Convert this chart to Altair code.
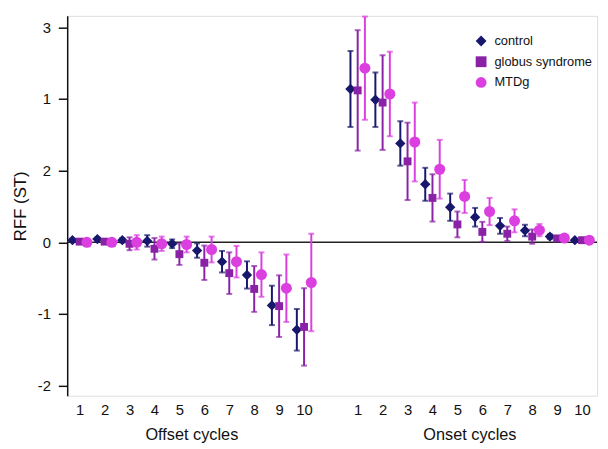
import altair as alt
import pandas as pd

groups = ["control", "globus syndrome", "MTDg"]
colors = ["#17176b", "#8a22a6", "#db3fe0"]
shapes = ["diamond", "square", "circle"]
marker_sizes = {"control": 110, "globus syndrome": 64, "MTDg": 125}
cycles = list(range(1, 11))

# Offset cycles (mean, half-width of error bar), in plotted units
off_control_mean = [0.03, 0.045, 0.03, 0.02, -0.02, -0.115, -0.27, -0.455, -0.88, -1.22]
off_control_err = [0.02, 0.02, 0.03, 0.08, 0.06, 0.10, 0.15, 0.19, 0.275, 0.29]
off_globus_mean = [0.01, 0.01, -0.02, -0.09, -0.165, -0.285, -0.43, -0.65, -0.89, -1.18]
off_globus_err = [0.02, 0.02, 0.09, 0.15, 0.15, 0.24, 0.29, 0.32, 0.43, 0.54]
off_mtdg_mean = [0.0, 0.0, 0.0, -0.02, -0.03, -0.10, -0.27, -0.45, -0.64, -0.56]
off_mtdg_err = [0.02, 0.02, 0.10, 0.10, 0.11, 0.18, 0.22, 0.31, 0.47, 0.68]

# Onset cycles
on_control_mean = [2.14, 1.99, 1.38, 0.81, 0.49, 0.35, 0.23, 0.165, 0.08, 0.03]
on_control_err = [0.53, 0.38, 0.31, 0.23, 0.19, 0.13, 0.11, 0.08, 0.03, 0.02]
on_globus_mean = [2.12, 1.95, 1.13, 0.62, 0.25, 0.146, 0.12, 0.08, 0.055, 0.03]
on_globus_err = [0.84, 0.66, 0.54, 0.33, 0.18, 0.14, 0.10, 0.10, 0.02, 0.02]
on_mtdg_mean = [2.43, 2.07, 1.40, 1.02, 0.64, 0.43, 0.30, 0.17, 0.06, 0.03]
on_mtdg_err = [0.72, 0.59, 0.55, 0.41, 0.23, 0.19, 0.16, 0.085, 0.04, 0.02]

y_tick_values = [3, 2, 1, 0, -1, -2]
y_tick_labels = ["3", "1", "2", "0", "-1", "-2"]

onset_shift = 11.15
dodge = {"control": -0.29, "globus syndrome": 0.0, "MTDg": 0.29}

rows = []
series = {
    ("Offset", "control"): (off_control_mean, off_control_err),
    ("Offset", "globus syndrome"): (off_globus_mean, off_globus_err),
    ("Offset", "MTDg"): (off_mtdg_mean, off_mtdg_err),
    ("Onset", "control"): (on_control_mean, on_control_err),
    ("Onset", "globus syndrome"): (on_globus_mean, on_globus_err),
    ("Onset", "MTDg"): (on_mtdg_mean, on_mtdg_err),
}
for (phase, g), (means, errs) in series.items():
    for c, m, e in zip(cycles, means, errs):
        base = c if phase == "Offset" else c + onset_shift
        rows.append({"phase": phase, "group": g, "cycle": c,
                     "pos": base + dodge[g], "mean": m,
                     "lo": m - e, "hi": m + e, "msize": marker_sizes[g]})
df = pd.DataFrame(rows)

tick_pos = cycles + [c + onset_shift for c in cycles]
label_expr = f"datum.value > 10.5 ? format(round(datum.value - {onset_shift}), 'd') : format(datum.value, 'd')"
ylabel_expr = " : ".join(
    [f"datum.value == {v} ? '{l}'" for v, l in zip(y_tick_values, y_tick_labels)]
) + " : datum.label"

W, H = 537, 385
FONT = "Liberation Sans"
xscale = alt.Scale(domain=[0.5, 21.75], nice=False, zero=False)
yscale = alt.Scale(domain=[-2.14, 3.16], nice=False, zero=False)
cscale = alt.Scale(domain=groups, range=colors)
sscale = alt.Scale(domain=groups, range=shapes)

legend = alt.Legend(title=None, orient="none", legendX=413, legendY=19,
                    labelFontSize=13, labelFont=FONT, labelColor="#111",
                    symbolSize=120, rowPadding=7, labelOffset=7, padding=0,
                    symbolStrokeWidth=0, symbolOpacity=1, labelLimit=200)
color_enc = alt.Color("group:N", scale=cscale, legend=legend)
shape_enc = alt.Shape("group:N", scale=sscale, legend=legend)

xaxis = alt.Axis(values=tick_pos, labelExpr=label_expr, domain=False,
                 ticks=False, grid=False, title=None, labelFontSize=15,
                 labelPadding=7, labelColor="#111", labelFont=FONT,
                 labelOverlap=False, labelFlush=False, labelBound=False)
xenc = alt.X("pos:Q", scale=xscale, axis=xaxis)

base = alt.Chart(df)

bars = base.mark_rule(strokeWidth=2).encode(
    x=xenc,
    y=alt.Y("lo:Q", scale=yscale),
    y2="hi:Q",
    color=color_enc,
)
cap_lo = base.mark_tick(orient="horizontal", size=6, thickness=2).encode(
    x=xenc, y=alt.Y("lo:Q", scale=yscale), color=color_enc)
cap_hi = base.mark_tick(orient="horizontal", size=6, thickness=2).encode(
    x=xenc, y=alt.Y("hi:Q", scale=yscale), color=color_enc)

points = base.mark_point(filled=True, opacity=1).encode(
    x=xenc,
    y=alt.Y("mean:Q", scale=yscale,
            axis=alt.Axis(values=y_tick_values, labelExpr=ylabel_expr, grid=False,
                          domainColor="#111", domainWidth=1.5, tickColor="#111",
                          tickWidth=1.5, tickSize=9, labelPadding=8, labelFontSize=15,
                          labelColor="#111", labelFont=FONT,
                          title="RFF (ST)", titleFontSize=17, titleFontWeight="normal",
                          titleFont=FONT, titleColor="#111", titlePadding=8)),
    color=color_enc,
    shape=shape_enc,
    size=alt.Size("msize:Q", scale=None, legend=None),
)

zero = alt.Chart(pd.DataFrame({"z": [0]})).mark_rule(color="#222", strokeWidth=1.5).encode(
    y=alt.Y("z:Q", scale=yscale))

titles_df = pd.DataFrame({"pos": [5.5, 5.5 + onset_shift], "t": ["Offset cycles", "Onset cycles"]})
titles = alt.Chart(titles_df).mark_text(fontSize=16.5, font=FONT, color="#111",
                                        baseline="alphabetic", align="center").encode(
    x=xenc, y=alt.value(430), text="t:N")

chart = alt.layer(zero, bars, cap_lo, cap_hi, points, titles).properties(
    width=W, height=H,
    autosize=alt.AutoSizeParams(type="none"),
    padding={"left": 60, "top": 5, "right": 3, "bottom": 48},
).configure_view(stroke=None).configure(background="white").configure_axisX(
    labelOverlap=False)

chart.save("out.html", embed_options={"renderer": "svg", "actions": False})
